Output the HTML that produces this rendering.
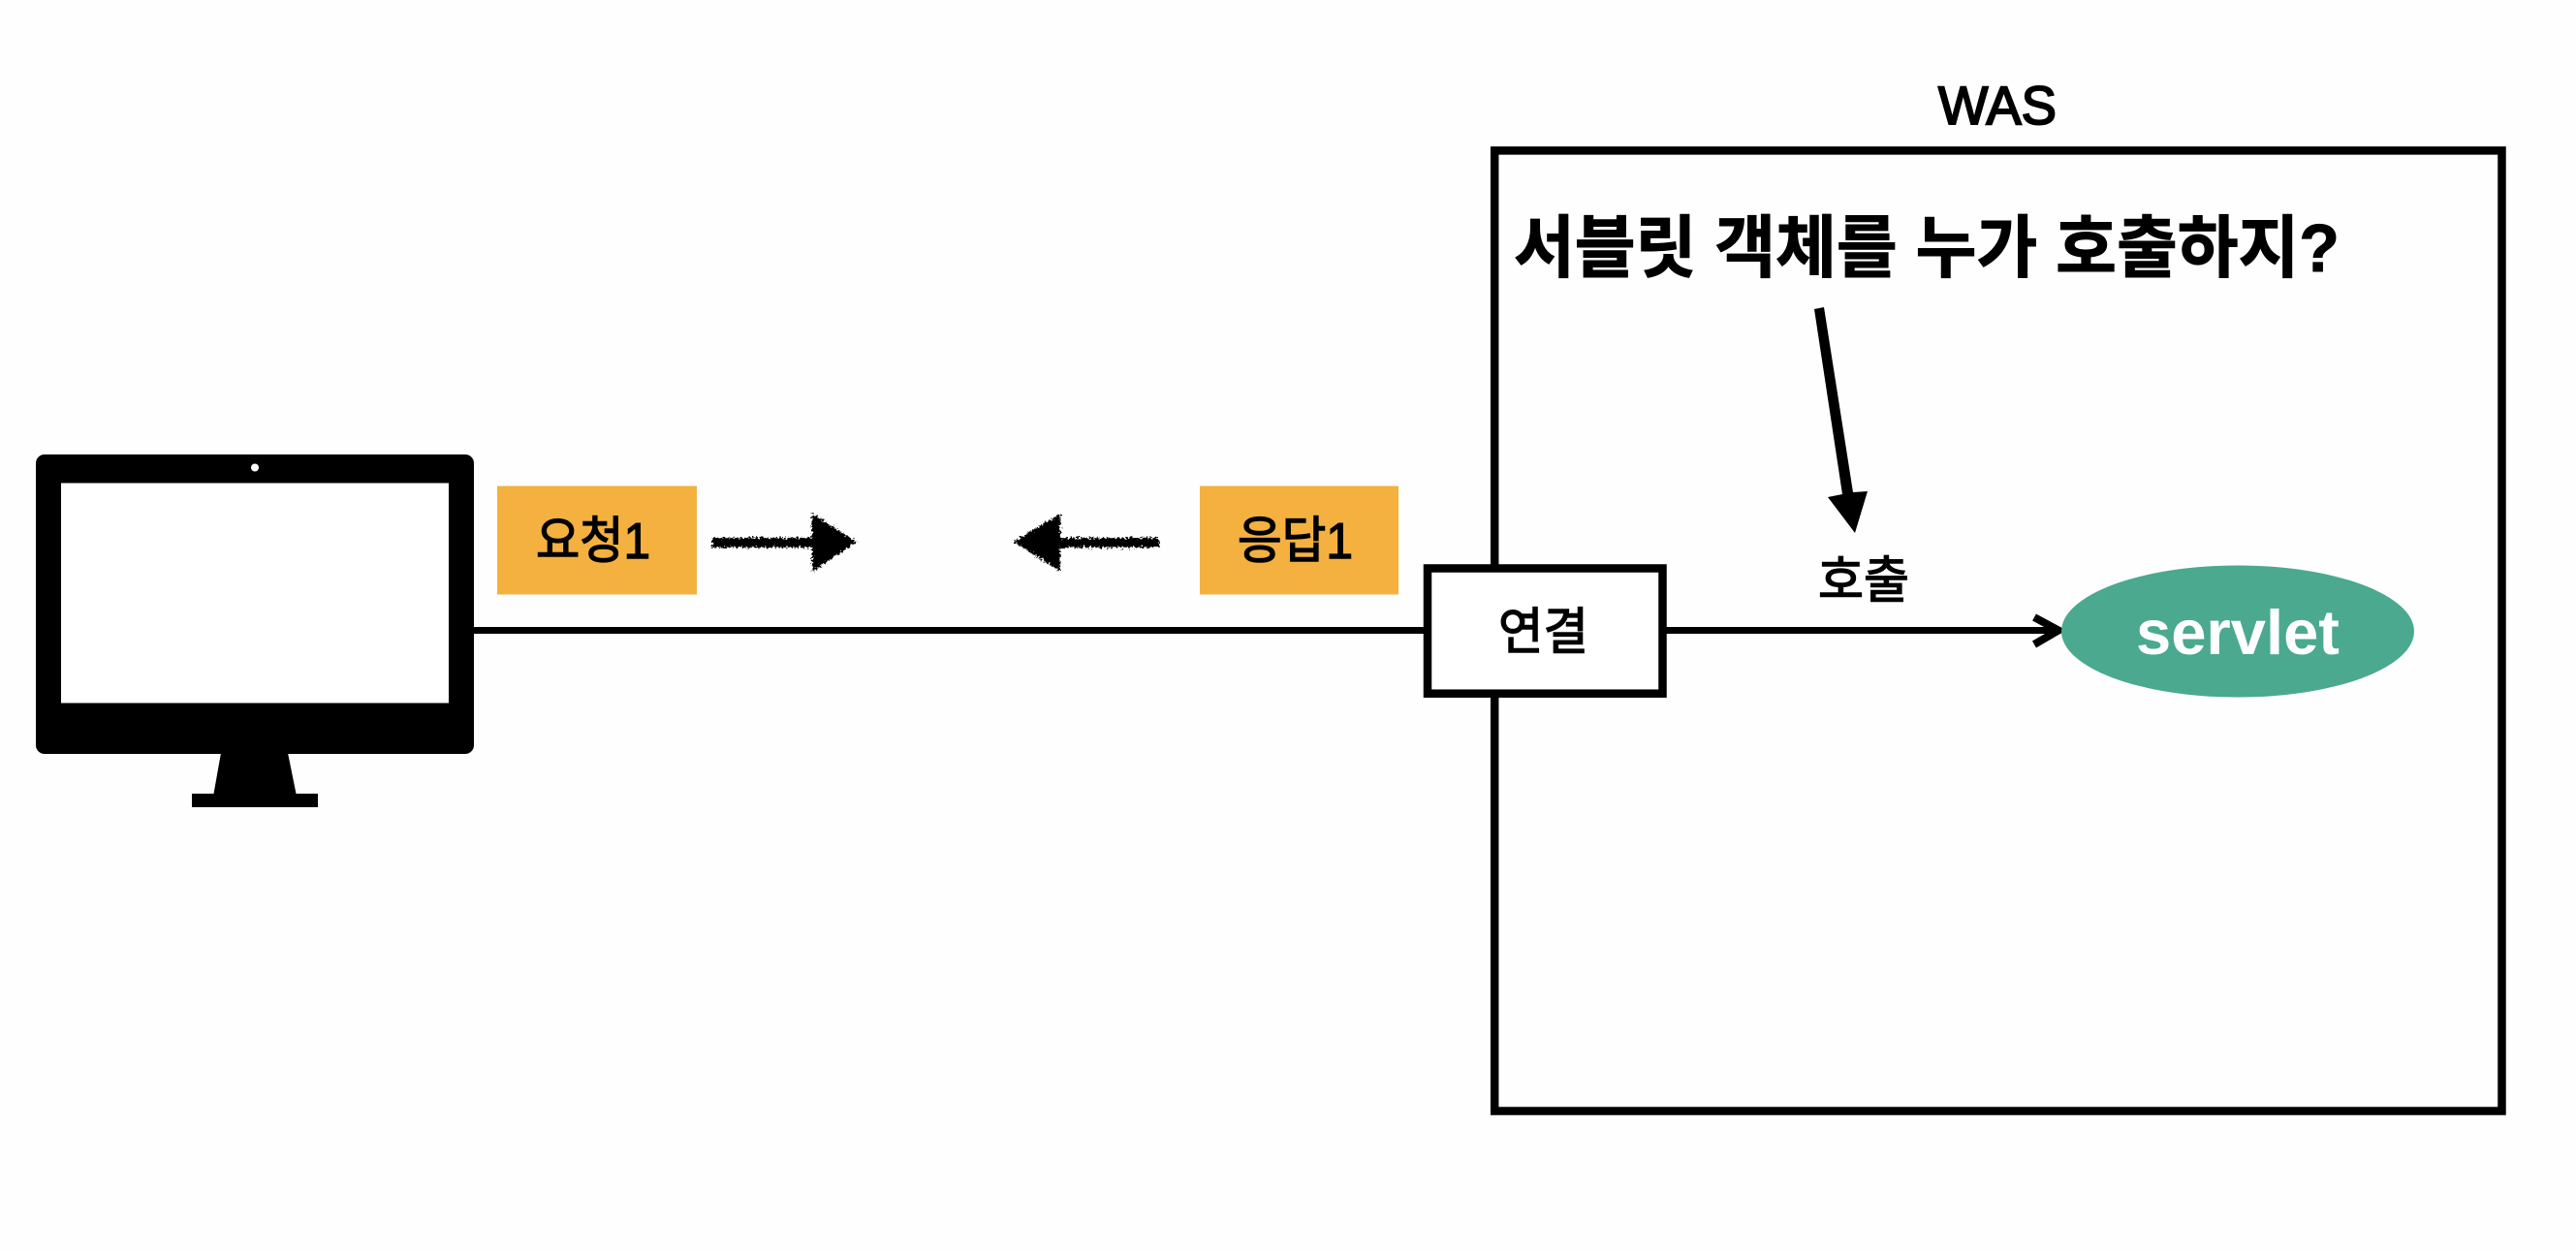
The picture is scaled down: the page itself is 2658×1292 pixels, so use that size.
<!DOCTYPE html>
<html lang="ko">
<head>
<meta charset="utf-8">
<title>WAS servlet</title>
<style>
html,body{margin:0;padding:0;background:#fefefe;}
svg{display:block;}
text{font-family:"Liberation Sans","Noto Sans CJK KR",sans-serif;fill:#000;}
.m{stroke:#000;stroke-width:1.4px;}
</style>
</head>
<body>
<svg width="2658" height="1292" viewBox="0 0 2658 1292" xmlns="http://www.w3.org/2000/svg">
<defs>
<filter id="rough" x="-10%" y="-20%" width="120%" height="140%">
<feTurbulence type="fractalNoise" baseFrequency="0.45" numOctaves="3" seed="7" result="n"/>
<feDisplacementMap in="SourceGraphic" in2="n" scale="8" xChannelSelector="R" yChannelSelector="G"/>
</filter>
</defs>
<rect width="2658" height="1292" fill="#fefefe"/>

<!-- monitor -->
<rect x="37" y="469" width="452" height="309" rx="9" fill="#000"/>
<rect x="63" y="498.5" width="400" height="227" fill="#fff"/>
<circle cx="263" cy="482.5" r="4" fill="#fff"/>
<polygon points="228,777 297,777 305.5,819 220.5,819" fill="#000"/>
<rect x="198" y="819" width="130" height="14" fill="#000"/>

<!-- main line -->
<line x1="488" y1="650.5" x2="1470" y2="650.5" stroke="#000" stroke-width="7"/>

<!-- WAS box -->
<rect x="1542.2" y="155.4" width="1039.3" height="991.1" fill="none" stroke="#000" stroke-width="8.5"/>
<text x="2000" y="128" font-size="56" stroke="#000" stroke-width="2" textLength="122" lengthAdjust="spacingAndGlyphs">WAS</text>

<!-- title -->
<text x="1562" y="280" font-size="70" font-weight="700" stroke="#000" stroke-width="1" textLength="852" lengthAdjust="spacingAndGlyphs">서블릿 객체를 누가 호출하지?</text>

<!-- big arrow -->
<polygon points="1872,319 1882,317 1912,508 1927,507 1914,550 1886,513 1901,510" fill="#000"/>

<!-- orange labels -->
<rect x="513" y="501.5" width="206" height="112" fill="#f4b13f"/>
<text class="m" x="553" y="576" font-size="52" textLength="118" lengthAdjust="spacingAndGlyphs">요청1</text>
<rect x="1238" y="501.5" width="205" height="112" fill="#f4b13f"/>
<text class="m" x="1277" y="576" font-size="52" textLength="119" lengthAdjust="spacingAndGlyphs">응답1</text>

<!-- rough arrows -->
<g filter="url(#rough)" fill="#000">
<polygon points="735,555 838,555 838,530 884,559 838,590 838,565 735,565"/>
<polygon points="1196,555 1094,555 1094,530 1046,559 1094,590 1094,565 1196,565"/>
</g>

<!-- connection box -->
<rect x="1473" y="586.5" width="242.5" height="129.2" fill="#fff" stroke="#000" stroke-width="8.5"/>
<text class="m" x="1546" y="670" font-size="52" textLength="93" lengthAdjust="spacingAndGlyphs">연결</text>

<!-- call line -->
<line x1="1716" y1="650.5" x2="2124" y2="650.5" stroke="#000" stroke-width="7"/>
<polyline points="2099,637 2124,650.5 2099,665" fill="none" stroke="#000" stroke-width="8"/>
<text class="m" x="1876" y="617" font-size="52" textLength="94" lengthAdjust="spacingAndGlyphs">호출</text>

<!-- servlet -->
<ellipse cx="2309" cy="651.5" rx="182" ry="68" fill="#4aa98f"/>
<text x="2204" y="675" font-size="65" font-weight="700" style="fill:#fff" textLength="210" lengthAdjust="spacingAndGlyphs">servlet</text>
</svg>
</body>
</html>
